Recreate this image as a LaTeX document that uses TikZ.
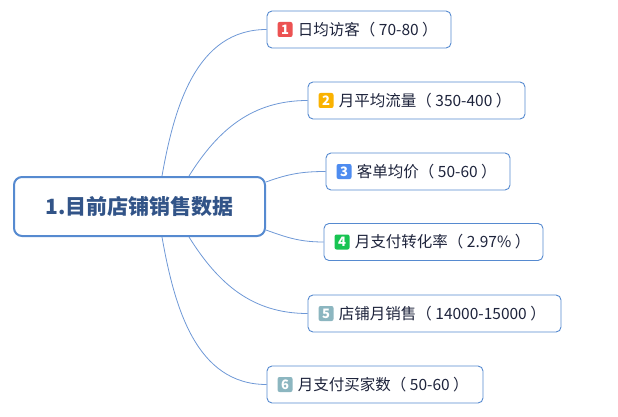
\documentclass[tikz,border=0pt]{standalone}
\usepackage{fontspec}
\setmainfont{Noto Sans CJK SC}
\usepackage{xcolor}
\usetikzlibrary{positioning}
\definecolor{boxblue}{RGB}{86, 138, 208}
\definecolor{linkblue}{RGB}{110, 152, 214}
\definecolor{rootink}{RGB}{50, 84, 136}
\definecolor{leafink}{RGB}{30, 36, 60}
\definecolor{badgered}{RGB}{236, 82, 82}
\definecolor{badgeorange}{RGB}{250, 178, 0}
\definecolor{badgeblue}{RGB}{78, 140, 240}
\definecolor{badgegreen}{RGB}{24, 196, 82}
\definecolor{badgeteal}{RGB}{140, 182, 192}

\begin{document}
\begin{tikzpicture}[x=1pt, y=-1pt,
    root/.style={draw=boxblue, line width=2pt, rounded corners=8pt, fill=white,
        minimum width=251, minimum height=59, text=rootink,
        font=\fontsize{21}{24}\selectfont\bfseries},
    leaf/.style={draw=boxblue, line width=0.9pt, rounded corners=5pt, fill=white,
        minimum height=37},
    badge/.style={fill=#1, rounded corners=2pt, minimum size=15, inner sep=0pt,
        text=white, font=\fontsize{13}{13}\selectfont\bfseries},
    label/.style={inner sep=0pt, text=leafink, font=\fontsize{15.5}{18}\selectfont},
    link/.style={draw=linkblue, line width=0.8pt}]
    \useasboundingbox (0,0) rectangle (618,417);
    \node[root] (root) at (139.5,206.5) {1.目前店铺销售数据};
    \foreach \i/\x/\y/\w/\col/\txt in {
        1/359/29.5/184/badgered/{日均访客（ 70-80 ）},
        2/416.5/100.5/217/badgeorange/{月平均流量（ 350-400 ）},
        3/418/171.5/184/badgeblue/{客单均价（ 50-60 ）},
        4/433.5/242/219/badgegreen/{月支付转化率（ 2.97\% ）},
        5/434.5/313.5/253/badgeteal/{店铺月销售（ 14000-15000 ）},
        6/375/384.5/216/badgeteal/{月支付买家数（ 50-60 ）}} {
        \node[leaf, minimum width=\w] (c\i) at (\x,\y) {};
        \node[badge=\col] (b\i) at ([xshift=18.5]c\i.west) {\i};
        \node[label, right=5pt of b\i] (t\i) {\txt};
    }
    \draw[link] ([xshift=22.5]root.north) to[out=80, in=180] (c1.west);
    \draw[link] ([xshift=49.5]root.north) to[out=58, in=180] (c2.west);
    \draw[link] ([yshift=24.5]root.east) to[out=20, in=180] (c3.west);
    \draw[link] ([yshift=-23.5]root.east) to[out=-20, in=180] (c4.west);
    \draw[link] ([xshift=49.5]root.south) to[out=-58, in=180] (c5.west);
    \draw[link] ([xshift=22.5]root.south) to[out=-80, in=180] (c6.west);
\end{tikzpicture}
\end{document}
